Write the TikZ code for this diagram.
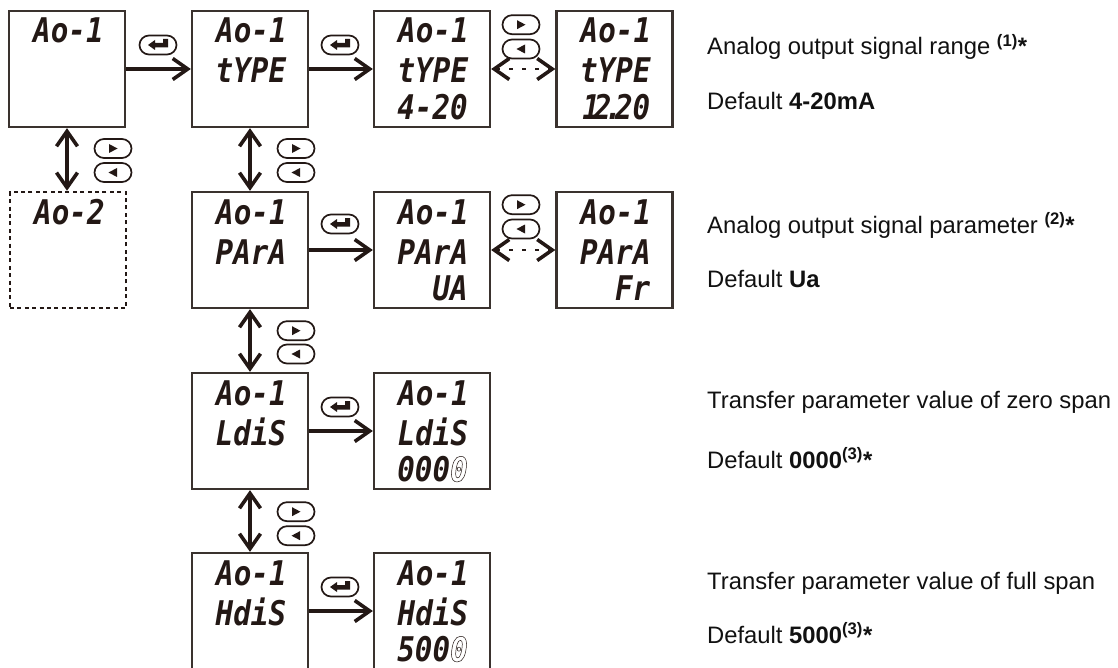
\documentclass[tikz,border=0pt]{standalone}
\usepackage{fontspec}
\setmainfont{Liberation Sans}
\newfontfamily\lcdfont[FakeStretch=0.86,BoldFont={DejaVu Sans Mono Bold Oblique}]{DejaVu Sans Mono Bold Oblique}
\usetikzlibrary{arrows.meta}
\definecolor{ink}{HTML}{231815}
\definecolor{edge}{HTML}{3A322E}
\definecolor{note}{HTML}{111111}
\tikzset{
  x=1bp,y=-1bp,
  barb/.tip={Straight Barb[length=15bp,width=21bp,line width=3.6bp]},
  lcdbox/.style={draw=edge,line width=2.3bp,minimum width=116bp,minimum height=116bp,inner sep=0pt,fill=white},
  lcddash/.style={lcdbox,draw=ink,line width=2.5bp,dash pattern=on 4bp off 3.4bp},
  lcd/.style={font=\lcdfont\fontsize{34bp}{34bp}\selectfont,text=ink,inner sep=0pt,anchor=base west},
  lcdr/.style={lcd,anchor=base east},
  flow/.style={draw=ink,line width=3.1bp,-barb},
  both/.style={draw=ink,line width=3.1bp,barb-barb},
  bothdash/.style={both,line width=2.4bp,dash pattern=on 4bp off 9bp},
  pill/.style={draw=ink,line width=1.7bp,minimum width=37bp,minimum height=19bp,inner sep=0pt,rounded corners=9.5bp,fill=white},
  note/.style={font=\fontsize{23.8bp}{24bp}\selectfont,text=note,anchor=base west,inner sep=0pt},
}
\newcommand{\outlinedigit}[1]{\special{pdf:code q 1 Tr 0.5 w}#1\special{pdf:code Q}}
\newcommand{\keyenter}[2]{\node[pill] (#1) at (#2) {};
  \fill[ink] (#1.center) ++(-10,0) -- ++(7,-5) -- ++(0,3) -- ++(8,0) -- ++(0,-4) -- ++(5,0) -- ++(0,8.5) -- ++(-13,0) -- ++(0,2.5) -- cycle;}
\newcommand{\keyright}[2]{\node[pill] (#1) at (#2) {};
  \fill[ink] (#1.center) ++(-4,-4.5) -- ++(8.5,4.5) -- ++(-8.5,4.5) -- cycle;}
\newcommand{\keyleft}[2]{\node[pill] (#1) at (#2) {};
  \fill[ink] (#1.center) ++(4,-4.5) -- ++(-8.5,4.5) -- ++(8.5,4.5) -- cycle;}
\newcommand{\lcdscreen}[6]{% name, center x, center y, line1, line2, line3
  \node[lcdbox] (#1) at (#2,#3) {};
  \node[lcd] (#1a) at (#2-34,#3-26) {#4};
  \node[lcd] (#1b) at (#2-34.5,#3+14) {#5};
  \node[lcdr] (#1c) at (#2+36,#3+50.5) {#6};}
\begin{document}
\begin{tikzpicture}
\useasboundingbox (0,0) rectangle (1118,668);
\clip (0,0) rectangle (1118,668);
\lcdscreen{a}{67}{69}{Ao-1}{}{}
\lcdscreen{b}{250}{69}{Ao-1}{tYPE}{}
\lcdscreen{c}{432}{69}{Ao-1}{tYPE}{4-20}
\lcdscreen{d}{614.5}{69}{Ao-1}{tYPE}{1\kern-6bp 2\kern-7bp.\kern-7bp 20}
\node[lcddash] (e) at (68,250) {};
\node[lcd] (ea) at (34,224) {Ao-2};
\lcdscreen{f}{250}{250}{Ao-1}{PArA}{}
\lcdscreen{g}{432}{250}{Ao-1}{PArA}{UA}
\lcdscreen{h}{614.5}{250}{Ao-1}{PArA}{Fr}
\lcdscreen{i}{250}{431}{Ao-1}{LdiS}{}
\lcdscreen{j}{432}{431}{Ao-1}{LdiS}{000\outlinedigit{0}}
\lcdscreen{k}{250}{611}{Ao-1}{HdiS}{}
\lcdscreen{l}{432}{611}{Ao-1}{HdiS}{500\outlinedigit{0}}

\draw[flow] (a.east) -- (b.west);
\draw[flow] (b.east) -- (c.west);
\draw[flow] (f.east) -- (g.west);
\draw[flow] (i.east) -- (j.west);
\draw[flow] (k.east) -- (l.west);
\draw[both] (a.south) -- (e.north -| a.south);
\draw[both] (b.south) -- (f.north);
\draw[both] (f.south) -- (i.north);
\draw[both] (i.south) -- (k.north);
\draw[bothdash] (c.east) -- (d.west);
\draw[bothdash] (g.east) -- (h.west);

\keyenter{e1}{158,45}
\keyenter{e2}{340,45}
\keyenter{e3}{340,224}
\keyenter{e4}{340,407}
\keyenter{e5}{340,587}
\keyright{r1}{113,148.5}\keyleft{l1}{113,172.5}
\keyright{r2}{296,148.5}\keyleft{l2}{296,172.5}
\keyright{r3}{521,24.7}\keyleft{l3}{521,49}
\keyright{r4}{521,204.7}\keyleft{l4}{521,229}
\keyright{r5}{296,330.7}\keyleft{l5}{296,354}
\keyright{r6}{296,511.7}\keyleft{l6}{296,535.7}

\node[note] (n1) at (707,55) {Analog output signal range \textbf{\textsuperscript{(1)}*}};
\node[note] (n2) at (707,109.5) {Default \textbf{4-20mA}};
\node[note] (n3) at (707,233) {Analog output signal parameter \textbf{\textsuperscript{(2)}*}};
\node[note] (n4) at (707,287) {Default \textbf{Ua}};
\node[note] (n5) at (707,408) {Transfer parameter value of zero span};
\node[note] (n6) at (707,468) {Default \textbf{0000\textsuperscript{(3)}*}};
\node[note] (n7) at (707,589) {Transfer parameter value of full span};
\node[note] (n8) at (707,643) {Default \textbf{5000\textsuperscript{(3)}*}};
\end{tikzpicture}
\end{document}
